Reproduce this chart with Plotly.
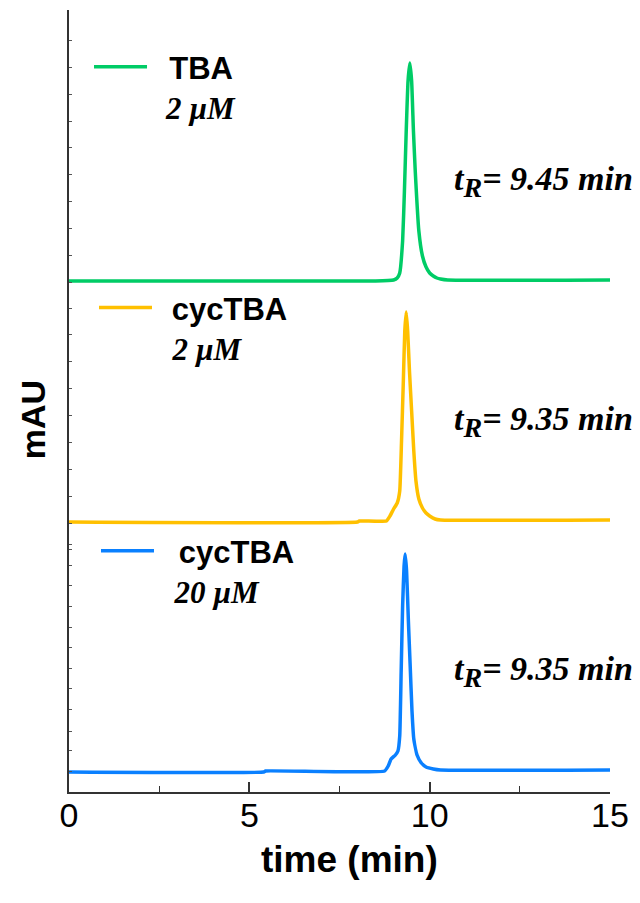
import plotly.graph_objects as go

# ---- data ----
SERIES_NAMES = ["TBA", "cycTBA", "cycTBA"]
CONCENTRATIONS = ["2 µM", "2 µM", "20 µM"]
RETENTION = ["9.45", "9.35", "9.35"]

tba_time = [0, 8.5, 9.0, 9.1, 9.17, 9.25, 9.30, 9.35, 9.40, 9.45, 9.50, 9.55,
            9.60, 9.70, 9.80, 9.90, 10.0, 10.1, 10.2, 10.3, 10.5, 15]
tba_mau = [0, 0, 1, 3, 8, 40, 90, 150, 200, 218, 200, 150,
           110, 50, 25, 14, 8, 5, 3, 2, 1, 1]

cyc2_time = [0, 8.0, 8.05, 8.8, 8.9, 9.0, 9.1, 9.17, 9.22, 9.27, 9.31, 9.35,
             9.39, 9.44, 9.50, 9.56, 9.62, 9.70, 9.80, 9.90, 10.0, 10.15, 10.3, 15]
cyc2_mau = [-1, -1, 0, 0, 5, 12, 18, 30, 80, 140, 190, 209,
            190, 150, 110, 70, 40, 22, 13, 8, 5, 2, 1, 1]

cyc20_time = [0, 5.4, 5.45, 8.75, 8.85, 8.93, 9.05, 9.12, 9.17, 9.21, 9.25, 9.29,
              9.32, 9.36, 9.41, 9.46, 9.51, 9.56, 9.65, 9.77, 9.90, 10.1, 10.3, 15]
cyc20_mau = [-1, -1, 0, 0, 5, 12, 16, 20, 35, 100, 165, 205,
             217, 200, 150, 105, 60, 32, 16, 8, 4, 2, 1, 1]

# vertical stacking offsets of the three chromatograms (arbitrary mAU)
OFFSETS = [511, 271, 21]

X_TICKS = [0, 5, 10, 15]
Y_MINOR_TICKS = [752, 725, 698, 671, 645, 618, 591, 564, 537, 510, 484, 458,
                 431, 404, 377, 350, 323, 296, 269, 248, 243, 227, 207, 186,
                 165, 145, 124, 104, 83, 61, 42, 21]

COLORS = ["#00CC66", "#FFC000", "#0A80FF"]

series = [(tba_time, tba_mau), (cyc2_time, cyc2_mau), (cyc20_time, cyc20_mau)]
legend_ids = ["legend", "legend2", "legend3"]
NB, THIN, HAIR = "\u00a0", "\u2009", "\u200a"
lead_first = [NB * 2, NB + THIN, NB * 2 + HAIR]
lead_second = [NB + THIN, NB * 2, NB * 2]

fig = go.Figure()
for i, (t, v) in enumerate(series):
    name = ("%s<b>%s</b><br><span style='font-family:Liberation Serif'>%s<b><i>%s</i></b></span>"
            % (lead_first[i], SERIES_NAMES[i], lead_second[i], CONCENTRATIONS[i]))
    fig.add_trace(go.Scatter(
        x=t, y=[val + OFFSETS[i] for val in v], mode="lines", name=name,
        line=dict(color=COLORS[i], width=3.5, shape="spline", smoothing=0.4),
        legend=legend_ids[i], showlegend=True,
    ))
    fig.add_annotation(
        x=1.046, xref="paper", xanchor="right",
        y=OFFSETS[i] + 100, yref="y", yanchor="middle",
        text="<b><i>t<sub><span style='font-size:28px'>R</span></sub>= %s min</i></b>" % RETENTION[i],
        showarrow=False,
        font=dict(family="Liberation Serif", size=34, color="black"),
    )

legend_common = dict(
    xanchor="left", yanchor="top", bgcolor="rgba(0,0,0,0)",
    font=dict(family="Liberation Sans", size=31, color="black"),
    itemwidth=53, valign="top", borderwidth=0,
)
legend_pos = [(0.037, 0.9616), (0.0462, 0.6535), (0.0499, 0.3427)]
for lid, (lx, ly) in zip(legend_ids, legend_pos):
    fig.update_layout(**{lid: dict(x=lx, y=ly, **legend_common)})

# axis titles
fig.add_annotation(x=-0.066, xref="paper", y=0.4757, yref="paper",
                   text="<b>mAU</b>", textangle=-90, showarrow=False,
                   xanchor="center", yanchor="middle",
                   font=dict(family="Liberation Sans", size=34, color="black"))
fig.add_annotation(x=0.5176, xref="paper", y=-0.086, yref="paper",
                   text="<b>time (min)</b>", showarrow=False,
                   xanchor="center", yanchor="middle",
                   font=dict(family="Liberation Sans", size=37, color="black"))

fig.update_layout(
    width=632, height=895,
    margin=dict(l=61, r=30, t=2, b=111),
    plot_bgcolor="white", paper_bgcolor="white",
    xaxis=dict(
        range=[0, 15], tickvals=X_TICKS, ticks="inside", ticklen=10, tickwidth=1.5,
        tickcolor="#333", showline=True, linecolor="#333", linewidth=1.5,
        showgrid=False, zeroline=False, ticklabelstandoff=-8,
        tickfont=dict(family="Liberation Sans", size=34, color="black"),
        minor=dict(dtick=2.5, ticks="inside", ticklen=6, tickcolor="#333", tickwidth=1.2, showgrid=False),
    ),
    yaxis=dict(
        range=[0, 782], tickvals=Y_MINOR_TICKS, ticks="inside", ticklen=3, tickwidth=1,
        tickcolor="#555", showticklabels=False, showline=True, linecolor="#333",
        linewidth=1.5, showgrid=False, zeroline=False,
    ),
)

fig.write_html("out.html")
